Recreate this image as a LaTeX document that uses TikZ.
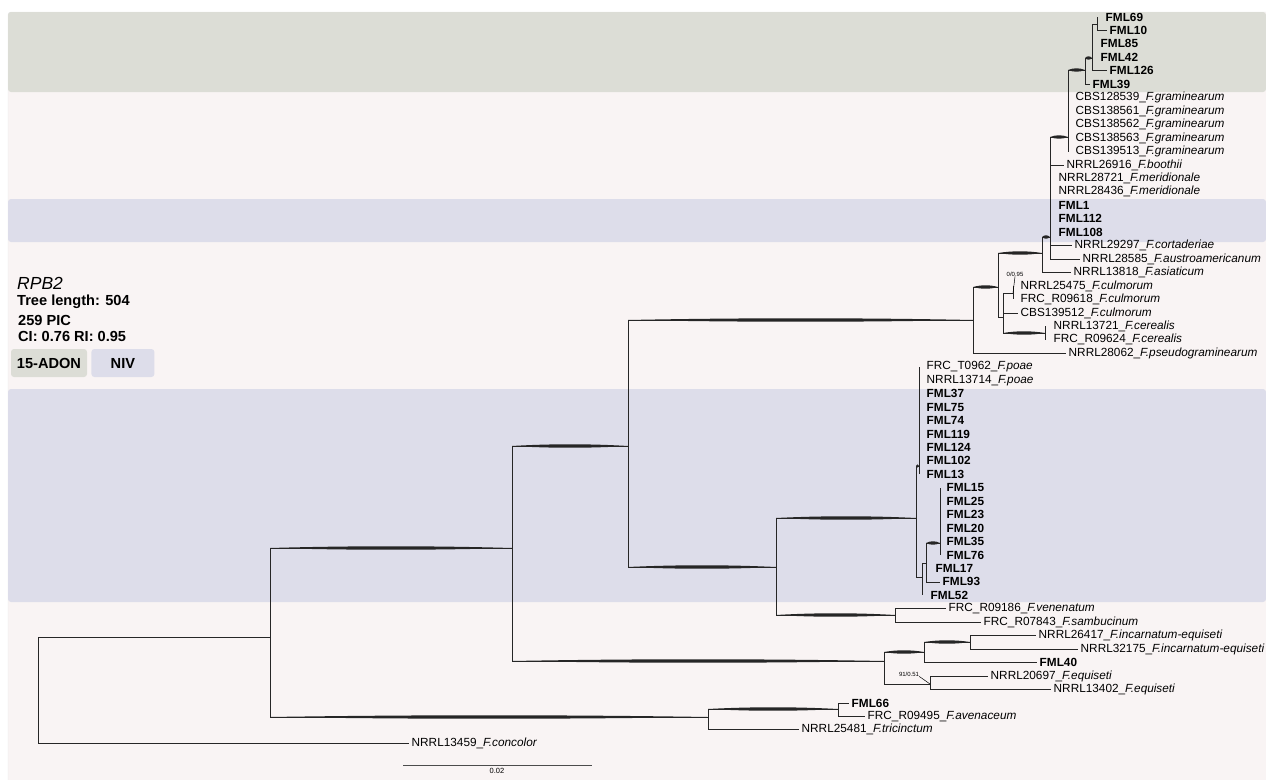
\documentclass[tikz,border=0pt]{standalone}
\usepackage{fontspec}
\setmainfont{Liberation Sans}
\usetikzlibrary{calc,positioning}

\definecolor{panelpink}{HTML}{F9F4F4}
\definecolor{adongrey}{HTML}{DCDDD6}
\definecolor{nivblue}{HTML}{DDDDEA}

\newcommand{\taxon}[2]{#1\_\textit{#2}}
\newcommand{\fml}[1]{\textbf{FML#1}}
\newcommand{\rowy}[1]{17+13.45*(#1-1)}

% thick (supported) branch: elbow plus a spindle on the horizontal part
\newcommand{\bulge}[2]{%
  \draw[branch] (#1) |- (#2);
  \fill[black!85] (#1|-#2)
    .. controls ($(#1|-#2)!0.33!(#2)+(0pt,2.3pt)$) and ($(#1|-#2)!0.67!(#2)+(0pt,2.3pt)$) .. (#2)
    .. controls ($(#1|-#2)!0.67!(#2)-(0pt,2.3pt)$) and ($(#1|-#2)!0.33!(#2)-(0pt,2.3pt)$) .. (#1|-#2) -- cycle;}

\begin{document}
\begin{tikzpicture}[x=1pt,y=-1pt,
  branch/.style={line width=0.8pt, draw=black!85},
  leaf/.style={anchor=west, inner xsep=2.5pt, inner ysep=0pt, font=\fontsize{11.8}{13}\selectfont},
  info/.style={anchor=west, inner sep=0pt, font=\fontsize{14.6}{16}\selectfont\bfseries},
  legendbox/.style={rounded corners=3pt, minimum height=28pt, inner sep=0pt, font=\fontsize{14.6}{16}\selectfont\bfseries},
  support/.style={inner sep=0pt, font=\fontsize{6}{7}\selectfont}]
  \useasboundingbox (0,0) rectangle (1266,779);

  % Background and bands
  \fill[panelpink, rounded corners=3pt, draw=black!10] (8,12) rectangle (1270,783);
  \fill[adongrey, rounded corners=3pt] (8,12) rectangle (1266,92);
  \fill[nivblue, rounded corners=3pt] (8,199) rectangle (1266,242);
  \fill[nivblue, rounded corners=3pt] (8,389) rectangle (1266,602);

  % Info and legend
  \node[anchor=west, inner sep=0pt, font=\fontsize{17.5}{19}\selectfont\itshape] (gene) at (17,283) {RPB2};
  \node[info] (treelen) at (17,302) {Tree length: 504};
  \node[info] (pic) at (18,320) {259 PIC};
  \node[info] (ciri) at (18,336) {CI: 0.76 RI: 0.95};
  \node[legendbox, fill=adongrey, minimum width=76pt] (adon) at (49,363) {15-ADON};
  \node[legendbox, fill=nivblue, minimum width=63pt, right=4pt of adon] (niv) {NIV};

  % Internal nodes
  \foreach \n/\x/\y in {nRoot/38/690, nA/270/637, nB/512/548, nC/628/446,
      nGram/973/320, nD/998/287, nE/1042/253, nN5/1050/237, nN4/1068/137,
      nN3/1085/70, nN2/1092/58, nN1/1097/24, nG/1003/317, nF/1013/293, nH/1045/333,
      nPoaeV/776/567, nP/916/518, nQ/919/466, nR/922/577, nS/926/563, nT/940/543,
      nV/895/615, nInc/884/661, nI2/924/652, nI3/970/642, nEq/930/684,
      nAv/708/717, nAv2/838/709}
    \coordinate (\n) at (\x,\y);

  % Leaves
  \foreach \r/\x/\txt in {1/1106/\fml{69}, 2/1110/\fml{10}, 3/1101/\fml{85}, 4/1101/\fml{42},
      5/1110/\fml{126}, 6/1093/\fml{39},
      7/1076/\taxon{CBS128539}{F.graminearum}, 8/1076/\taxon{CBS138561}{F.graminearum},
      9/1076/\taxon{CBS138562}{F.graminearum}, 10/1076/\taxon{CBS138563}{F.graminearum},
      11/1076/\taxon{CBS139513}{F.graminearum},
      12/1067/\taxon{NRRL26916}{F.boothii}, 13/1059/\taxon{NRRL28721}{F.meridionale},
      14/1059/\taxon{NRRL28436}{F.meridionale},
      15/1059/\fml{1}, 16/1059/\fml{112}, 17/1059/\fml{108},
      18/1075/\taxon{NRRL29297}{F.cortaderiae}, 19/1083/\taxon{NRRL28585}{F.austroamericanum},
      20/1074/\taxon{NRRL13818}{F.asiaticum},
      21/1021/\taxon{NRRL25475}{F.culmorum}, 22/1021/\taxon{FRC\_R09618}{F.culmorum},
      23/1021/\taxon{CBS139512}{F.culmorum},
      24/1054/\taxon{NRRL13721}{F.cerealis}, 25/1054/\taxon{FRC\_R09624}{F.cerealis},
      26/1069/\taxon{NRRL28062}{F.pseudograminearum},
      27/927/\taxon{FRC\_T0962}{F.poae}, 28/927/\taxon{NRRL13714}{F.poae},
      29/927/\fml{37}, 30/927/\fml{75}, 31/927/\fml{74}, 32/927/\fml{119},
      33/927/\fml{124}, 34/927/\fml{102}, 35/927/\fml{13},
      36/947/\fml{15}, 37/947/\fml{25}, 38/947/\fml{23}, 39/947/\fml{20},
      40/947/\fml{35}, 41/947/\fml{76},
      42/936/\fml{17}, 43/943/\fml{93}, 44/931/\fml{52},
      45/949/\taxon{FRC\_R09186}{F.venenatum}, 46/984/\taxon{FRC\_R07843}{F.sambucinum},
      47/1039/\taxon{NRRL26417}{F.incarnatum-equiseti},
      48/1081/\taxon{NRRL32175}{F.incarnatum-equiseti}, 49/1040/\fml{40},
      50/991/\taxon{NRRL20697}{F.equiseti}, 51/1054/\taxon{NRRL13402}{F.equiseti},
      52/852/\fml{66}, 53/868/\taxon{FRC\_R09495}{F.avenaceum},
      54/802/\taxon{NRRL25481}{F.tricinctum}, 55/412/\taxon{NRRL13459}{F.concolor}}
    \node[leaf] (l\r) at ({\x-3},{\rowy{\r}}) {\txt};

  % Branches between internal nodes
  \foreach \p/\c in {nRoot/nA, nN2/nN1, nD/nG, nG/nF, nInc/nEq, nP/nR, nR/nS}
    \draw[branch] (\p) |- (\c);
  \foreach \p/\c in {nA/nB, nA/nAv, nB/nC, nB/nInc, nC/nGram, nC/nPoaeV,
      nPoaeV/nP, nPoaeV/nV, nGram/nD, nD/nE, nE/nN5, nN5/nN4, nN4/nN3,
      nN3/nN2, nG/nH, nInc/nI2, nI2/nI3, nAv/nAv2, nP/nQ, nS/nT}
    \bulge{\p}{\c};

  % Terminal branches
  \foreach \p/\r in {nN1/2, nN2/5, nN3/6, nN5/12, nN5/18, nN5/19, nE/20, nG/23,
      nGram/26, nS/43, nV/45, nV/46, nI3/47, nI3/48, nI2/49, nEq/50, nEq/51,
      nAv2/52, nAv2/53, nAv/54, nRoot/55}
    \draw[branch] (\p) |- (l\r.west);
  \foreach \p/\r in {nN1/1, nN2/3, nN2/4, nN4/7, nN4/11, nN5/13, nN5/17,
      nF/21, nF/22, nH/24, nH/25, nQ/27, nQ/35, nT/36, nT/41, nS/42, nR/44}
    \draw[branch] (\p) -- (\p |- l\r.west);

  % Support values
  \node[support] (bs1) at (1015,274) {0/0.95};
  \draw[line width=0.5pt] (bs1.south) -- (nF);
  \node[support] (bs2) at (909,674) {91/0.51};
  \draw[line width=0.5pt] (bs2.south east) -- (nEq);

  % Scale bar
  \coordinate (sbA) at (403,765);
  \coordinate (sbB) at (592,765);
  \draw[line width=0.8pt, black!70] (sbA) -- (sbB);
  \node[anchor=north, inner sep=0pt, font=\fontsize{7.5}{8}\selectfont] (sbtxt) at (497,768.5) {0.02};
\end{tikzpicture}
\end{document}
